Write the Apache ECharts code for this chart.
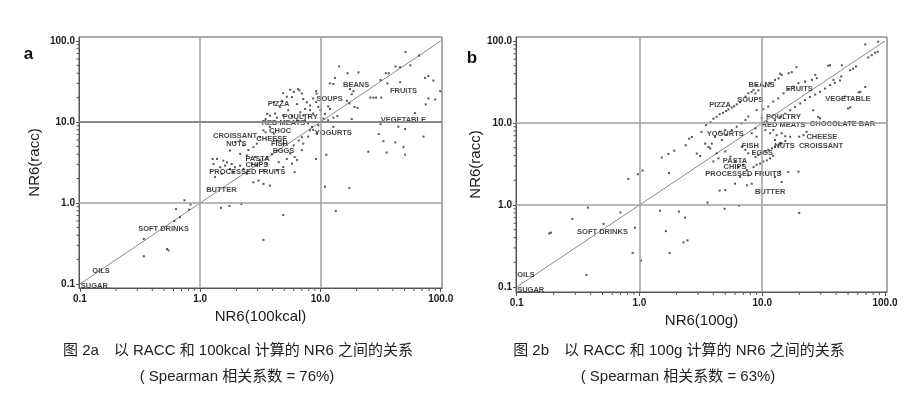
<!DOCTYPE html>
<html><head><meta charset="utf-8">
<script src="https://cdn.jsdelivr.net/npm/echarts@6/dist/echarts.min.js"></script>
<style>html,body{margin:0;padding:0;background:#fff}#c{width:915px;height:397px}</style>
</head><body><div id="c"></div>
<script>
// ---- axis / tick data ----
const majorTicks = [0.1, 1, 10, 100];
const tickLabels = ['0.1', '1.0', '10.0', '100.0'];
const minorTicks = [0.2,0.3,0.4,0.5,0.6,0.7,0.8,0.9, 2,3,4,5,6,7,8,9, 20,30,40,50,60,70,80,90];
const gridValues = [1, 10];
const identityLine = [0.1, 100];

// ---- panel a: NR6(100kcal) vs NR6(racc) ----
const pointsA = [
[51,73],[66,66],[42,48.5],[46,47.5],[56,50],[35,40],[37,40],[14.3,48.5],[16.8,40],[20.7,41],
[31.6,33],[36,30],[46,31],[79,37],[74,35],[87,32.5],[99,24],[79,19.5],[75,16.5],[26,20],
[27.5,20],[29,20],[32,20],[17.6,25.5],[18.8,24],[18.2,22],[19.2,15.3],[20.4,15],[16.6,18.3],[17.4,17],
[13.2,35],[12,30],[12.8,29.5],[11.6,15.6],[12,14.5],[10,14],[10.9,12.6],[13.8,11.8],[18.2,10.9],[31.6,9.4],
[44.5,8.75],[50.6,8.2],[72,6.6],[30.5,7.1],[33.4,5.8],[42,5.6],[49,4.9],[50.6,3.95],[25,4.3],[35.5,4.2],
[11.2,3.95],[9.2,3.5],[10.9,1.59],[17.4,1.53],[61,12.9],[90,19],
[4.9,22.7],[5.6,25],[6,23.5],[6.5,25.5],[6.7,24.5],[7,22.5],[5.8,20.3],[5.25,20.5],[4.8,18.3],[7.2,19.2],
[7.7,17.5],[8.2,16],[8.7,19.5],[9.2,24],[9.3,22.4],[9.2,17.6],[9.6,15.3],[8.2,14],[8.7,12.7],[7.45,14.5],
[6.8,13.2],[7.2,12],[6.4,16.6],[4.1,17.6],[4.6,15.3],[3.6,12.6],[3.8,12],[3.5,10.9],[4.2,12.7],[4.35,11.3],
[4.9,12.1],[5.4,14],[5.8,11.8],[6.4,10.5],[7.45,10.5],[7.9,9.6],[8.5,8.7],[8.7,8.0],[9.6,9.1],[10.6,11],
[11.6,10.5],[12.8,11.3],[8.2,7.9],[9.3,7.2],[7.9,6.6],[7,6.5],[6.6,5.9],[7.2,5.4],[6,5.15],[7,4.5],
[6.4,3.4],[5.6,4.1],[6.1,3.7],[5.25,3.5],[4.9,5.4],[4.35,5.9],[4.1,7.2],[3.36,7.9],[3.5,7.45],[3.8,8.7],
[3.15,6.5],[2.96,5.4],[2.77,4.9],[2.52,4.5],[2.29,5.15],[2.15,5.9],[1.95,5.65],[1.77,4.45],[2.15,4.05],[2.44,3.87],
[2.86,3.7],[3.15,3.36],[3.6,3.7],[3.95,4.0],[4.35,4.45],[4.5,3.2],[3.6,3.06],[3.36,2.53],[2.96,2.92],[2.69,3.06],
[1.29,3.03],[1.38,3.5],[1.56,3.33],[1.67,3.18],[1.83,3.03],[1.61,2.89],[1.77,2.63],[1.95,2.76],[2.15,2.89],[2.29,2.63],
[1.47,2.76],[1.33,2.1],[1.51,2.3],[1.89,2.4],[2.44,2.3],[3.06,1.89],[3.36,1.72],[3.8,1.64],[4.35,2.53],[4.9,2.78],
[5.8,3.06],[2.77,1.8],[6.1,2.4],[12.8,8.7],[1.27,3.5],
[2.2,0.97],[1.75,0.92],[1.49,0.87],[4.9,0.71],[13.4,0.80],[3.36,0.35],[0.34,0.22],[0.34,0.36],[0.53,0.27],[0.545,0.26],
[0.61,0.6],[0.63,0.84],[0.74,1.08],[0.68,0.67],[0.81,0.83],[0.83,0.96]
];
const labelNamesA = ['BEANS','FRUITS','SOUPS','PIZZA','POULTRY','RED MEATS','VEGETABLE','CHOC','YOGURTS','CROISSANT','CHEESE','NUTS','FISH','EGGS','PASTA','CHIPS','PROCESSED FRUITS','BUTTER','SOFT DRINKS','OILS','SUGAR'];
const labelPosA = [[19.8,28.9],[49,23.9],[11.9,19],[4.48,16.5],[6.78,11.7],[4.93,9.7],[49,10.7],[4.62,7.74],[12.8,7.3],[1.95,6.65],[3.94,6.2],[2.0,5.3],[4.56,5.4],[4.93,4.34],[3.0,3.53],[2.96,2.92],[2.47,2.41],[1.5,1.43],[0.496,0.478],[0.15,0.145],[0.132,0.095]];

// ---- panel b: NR6(100g) vs NR6(racc) ----
const pointsB = [
[0.184,0.45],[0.19,0.46],[0.284,0.675],[0.38,0.93],[0.51,0.59],[0.70,0.81],[0.92,0.53],[0.81,2.08],[0.97,2.37],[1.06,2.63],
[0.88,0.26],[1.03,0.21],[0.37,0.14],[1.47,0.85],[1.64,0.48],[1.76,0.26],[2.1,0.83],[2.35,0.70],[2.28,0.35],[2.46,0.37],
[3.58,1.07],[4.93,0.9],[6.5,0.98],[20,0.8],
[1.52,3.8],[1.72,4.2],[1.92,4.6],[1.74,2.45],[2.54,6.45],[2.67,6.75],[2.38,5.35],[2.93,4.24],[3.12,3.96],[3.2,7.8],
[3.49,9.4],[3.8,10.2],[4.0,11.3],[4.25,11.9],[4.5,12.8],[4.8,13.3],[5.08,14],[5.3,14.6],[5.65,15.4],[5.9,16],
[6.2,16.9],[6.6,17.9],[8.8,23],[9.3,25],[7.3,21],[7.7,23],[8.2,24],[8.5,25.3],[9,29],
[10.6,28],[11.6,30.5],[12.7,33.6],[13.6,35],[14.4,38.6],[16.4,40.5],[17.4,41.6],[19,48],[14,40],
[11.2,15.9],[12.3,18.3],[13.5,20],[14.9,23],[16.4,25.4],[18,27.8],[19.7,30.6],[22.3,32],[25.4,33.6],[27,38.6],[27.8,35.2],
[69,91],[88,98],[83,72],[78,67],[73,63],[87,74],[58,49],[55,46],[52,44],[44.5,50.6],
[35.6,50.6],[34.5,50],[63,24],[69,27.5],[52,15.5],[44,37],[38,33.5],[50,15],[61,23.6],[47,21],
[43,33],[39,31],[35.7,29],[32.5,26.3],[29.6,24],[27,22.2],[24.5,20.8],[22.3,19],[20.4,17.3],[18.5,15.7],
[16.9,14.3],[15.4,13],[14,11.9],[12.7,10.8],[26,14.3],[28.6,11.8],[29.6,11.4],
[9,14.4],[10.2,14.7],[9.9,11.4],[10.9,10.4],[10.6,8.2],[11.6,7.5],[12.3,8.2],[13.1,7.1],[14.4,7.5],[15.4,6.9],
[8.8,8.6],[8.2,7.5],[9,6.8],[12.7,6.2],[14,5.7],
[8.8,3.85],[9.3,4.07],[9.9,4.3],[10.6,4.5],[11.2,4.7],[12,4.9],[12.7,5.15],[13.6,5.4],[14.4,5.65],[15.4,6.05],
[16.9,6.8],[8.5,2.9],[9,3.1],[9.6,3.2],[10.2,3.4],[10.9,3.5],[11.6,3.7],[12.3,3.97],[7.7,4.27],[7.3,4.7],[6.8,5.15],
[20,6.8],[21.7,7.1],[23,7.8],[16.3,2.53],[14.4,1.91],[12.7,2.2],[14,2.55],[19.7,2.55],
[3.43,5.6],[3.65,5.1],[3.88,5.6],[4.13,6.75],[4.5,7.85],[5,8.2],[4.7,6.2],[5.1,7.2],[5.65,8.2],[6.2,9],
[6.8,9.9],[7.3,10.9],[7.7,12],
[3.77,4.9],[4.25,4.27],[4.4,3.7],[4.0,3.4],[5,4.5],[5.5,3.9],[6,3.4],[6.4,2.9],[7,3.1],[7.5,2.67],
[7.7,2.3],[6.6,2.2],[7.5,1.74],[8.2,1.82],[5,1.52],[4.5,1.5],[6,1.82]
];
const labelNamesB = ['BEANS','FRUITS','SOUPS','VEGETABLE','PIZZA','POULTRY','RED MEATS','CHOCOLATE BAR','YOGURTS','CHEESE','FISH','NUTS','CROISSANT','EGGS','PASTA','CHIPS','PROCESSED FRUITS','BUTTER','SOFT DRINKS','OILS','SUGAR'];
const labelPosB = [[9.9,29.2],[20,26],[8.0,19.1],[49.8,19.5],[4.54,16.6],[14.9,11.8],[14.9,9.5],[45,9.7],[4.99,7.3],[30.6,6.77],[8.0,5.3],[15.2,5.3],[30.1,5.3],[10,4.27],[6.0,3.48],[6.0,2.88],[7.03,2.39],[11.6,1.43],[0.5,0.47],[0.119,0.14],[0.13,0.093]];

// ---- text ----
const panelLetters = ['a', 'b'];
const xTitles = ['NR6(100kcal)', 'NR6(100g)'];
const yTitle = 'NR6(racc)';
const captions1 = ['图 2a\u3000以 RACC 和 100kcal 计算的 NR6 之间的关系', '图 2b\u3000以 RACC 和 100g 计算的 NR6 之间的关系'];
const captions2 = ['( Spearman 相关系数 = 76%)', '( Spearman 相关系数 = 63%)'];

// ---- layout ----
const FONT = '"Liberation Sans", Arial, sans-serif';
const CJK = '"Liberation Sans", "Noto Sans CJK SC", sans-serif';
const grids = [
  {left: 79, top: 37, width: 363, height: 251},
  {left: 516, top: 37, width: 371, height: 255}
];
const extents = [
  {x: [0.0983, 102.5], y: [0.0893, 112]},
  {x: [0.0987, 103.8], y: [0.0869, 111.9]}
];

function fmt(v) {
  const i = majorTicks.findIndex(t => Math.abs(Math.log10(t) - Math.log10(v)) < 0.002);
  return i >= 0 ? tickLabels[i] : '';
}

function xAxis(i) {
  return {
    type: 'log', logBase: 10, gridIndex: i, min: extents[i].x[0], max: extents[i].x[1],
    name: xTitles[i], nameLocation: 'middle', nameGap: 20,
    nameTextStyle: {fontSize: 15, color: '#1a1a1a', fontFamily: FONT},
    axisLine: {show: true, lineStyle: {color: '#555', width: 1}},
    axisTick: {show: true, length: 4, lineStyle: {color: '#555'}},
    axisLabel: {fontSize: 10, fontWeight: 'bold', color: '#1a1a1a', fontFamily: FONT, margin: 6, formatter: fmt, showMinLabel: false, showMaxLabel: false},
    splitLine: {show: false}
  };
}
function yAxis(i) {
  return {
    type: 'log', logBase: 10, gridIndex: i, min: extents[i].y[0], max: extents[i].y[1],
    name: yTitle, nameLocation: 'middle', nameGap: i === 0 ? 37 : 32, nameRotate: 90,
    nameTextStyle: {fontSize: 15, color: '#1a1a1a', fontFamily: FONT},
    axisLine: {show: true, lineStyle: {color: '#555', width: 1}},
    axisTick: {show: true, length: 3, lineStyle: {color: '#555'}},
    axisLabel: {fontSize: 10, fontWeight: 'bold', color: '#1a1a1a', fontFamily: FONT, margin: 4, formatter: fmt, showMinLabel: false, showMaxLabel: false},
    splitLine: {show: false}
  };
}

function seriesFor(i, points, names, pos) {
  return [
    {
      type: 'line', xAxisIndex: i, yAxisIndex: i, silent: true, symbol: 'none', z: 1,
      data: [[identityLine[0], identityLine[0]], [identityLine[1], identityLine[1]]],
      lineStyle: {color: '#8a8a8a', width: 1},
      markLine: {
        silent: true, symbol: 'none', label: {show: false},
        lineStyle: {color: '#a0a0a0', width: 1.5, type: 'solid'},
        data: gridValues.map(v => ({xAxis: v})).concat(gridValues.map(v => ({yAxis: v, lineStyle: {color: (i === 0 && v === 10) ? '#888' : '#a0a0a0', width: (i === 0 && v === 10) ? 2 : 1.5}})))
      }
    },
    {
      type: 'scatter', xAxisIndex: i, yAxisIndex: i, silent: true, z: 3,
      symbol: 'rect', symbolSize: 2, itemStyle: {color: '#2a2a2a'},
      data: points
    },
    {
      type: 'scatter', xAxisIndex: i, yAxisIndex: i, silent: true, z: 4,
      symbolSize: 0,
      data: names.map((n, k) => ({name: n, value: pos[k]})),
      label: {show: true, position: 'inside', formatter: '{b}', fontSize: 7.5, fontWeight: 'bold', color: '#111', fontFamily: FONT}
    },
    {
      type: 'custom', xAxisIndex: i, yAxisIndex: i, silent: true, z: 2, clip: false,
      data: minorTicks.map(v => [v, v]),
      encode: {x: 0, y: 1},
      renderItem: function (params, api) {
        const v = api.value(0);
        const cs = params.coordSys;
        const px = api.coord([v, 1])[0];
        const py = api.coord([1, v])[1];
        return {type: 'group', children: [
          {type: 'line', shape: {x1: px, y1: cs.y + cs.height, x2: px, y2: cs.y + cs.height + 3}, style: {stroke: '#555', lineWidth: 1}},
          {type: 'line', shape: {x1: cs.x, y1: py, x2: cs.x - 2.5, y2: py}, style: {stroke: '#555', lineWidth: 1}}
        ]};
      }
    }
  ];
}

const graphics = [
  {type: 'text', x: 28.5, y: 46, style: {text: panelLetters[0], font: 'bold 17px ' + FONT, fill: '#111', align: 'center', verticalAlign: 'alphabetic'}},
  {type: 'text', x: 472, y: 50, style: {text: panelLetters[1], font: 'bold 17px ' + FONT, fill: '#111', align: 'center', verticalAlign: 'alphabetic'}},
  {type: 'text', x: 238, y: 351, style: {text: captions1[0], font: '15px ' + CJK, fill: '#222', align: 'center', verticalAlign: 'middle'}},
  {type: 'text', x: 679, y: 351, style: {text: captions1[1], font: '15px ' + CJK, fill: '#222', align: 'center', verticalAlign: 'middle'}},
  {type: 'text', x: 237, y: 377, style: {text: captions2[0], font: '15px ' + CJK, fill: '#222', align: 'center', verticalAlign: 'middle'}},
  {type: 'text', x: 678, y: 377, style: {text: captions2[1], font: '15px ' + CJK, fill: '#222', align: 'center', verticalAlign: 'middle'}}
];

const chart = echarts.init(document.getElementById('c'), null, {renderer: 'canvas'});
chart.setOption({
  animation: false,
  backgroundColor: '#fff',
  grid: grids.map(g => Object.assign({show: true, borderColor: '#555', borderWidth: 1, containLabel: false}, g)),
  xAxis: [xAxis(0), xAxis(1)],
  yAxis: [yAxis(0), yAxis(1)],
  series: seriesFor(0, pointsA, labelNamesA, labelPosA).concat(seriesFor(1, pointsB, labelNamesB, labelPosB)),
  graphic: graphics
});
</script></body></html>
